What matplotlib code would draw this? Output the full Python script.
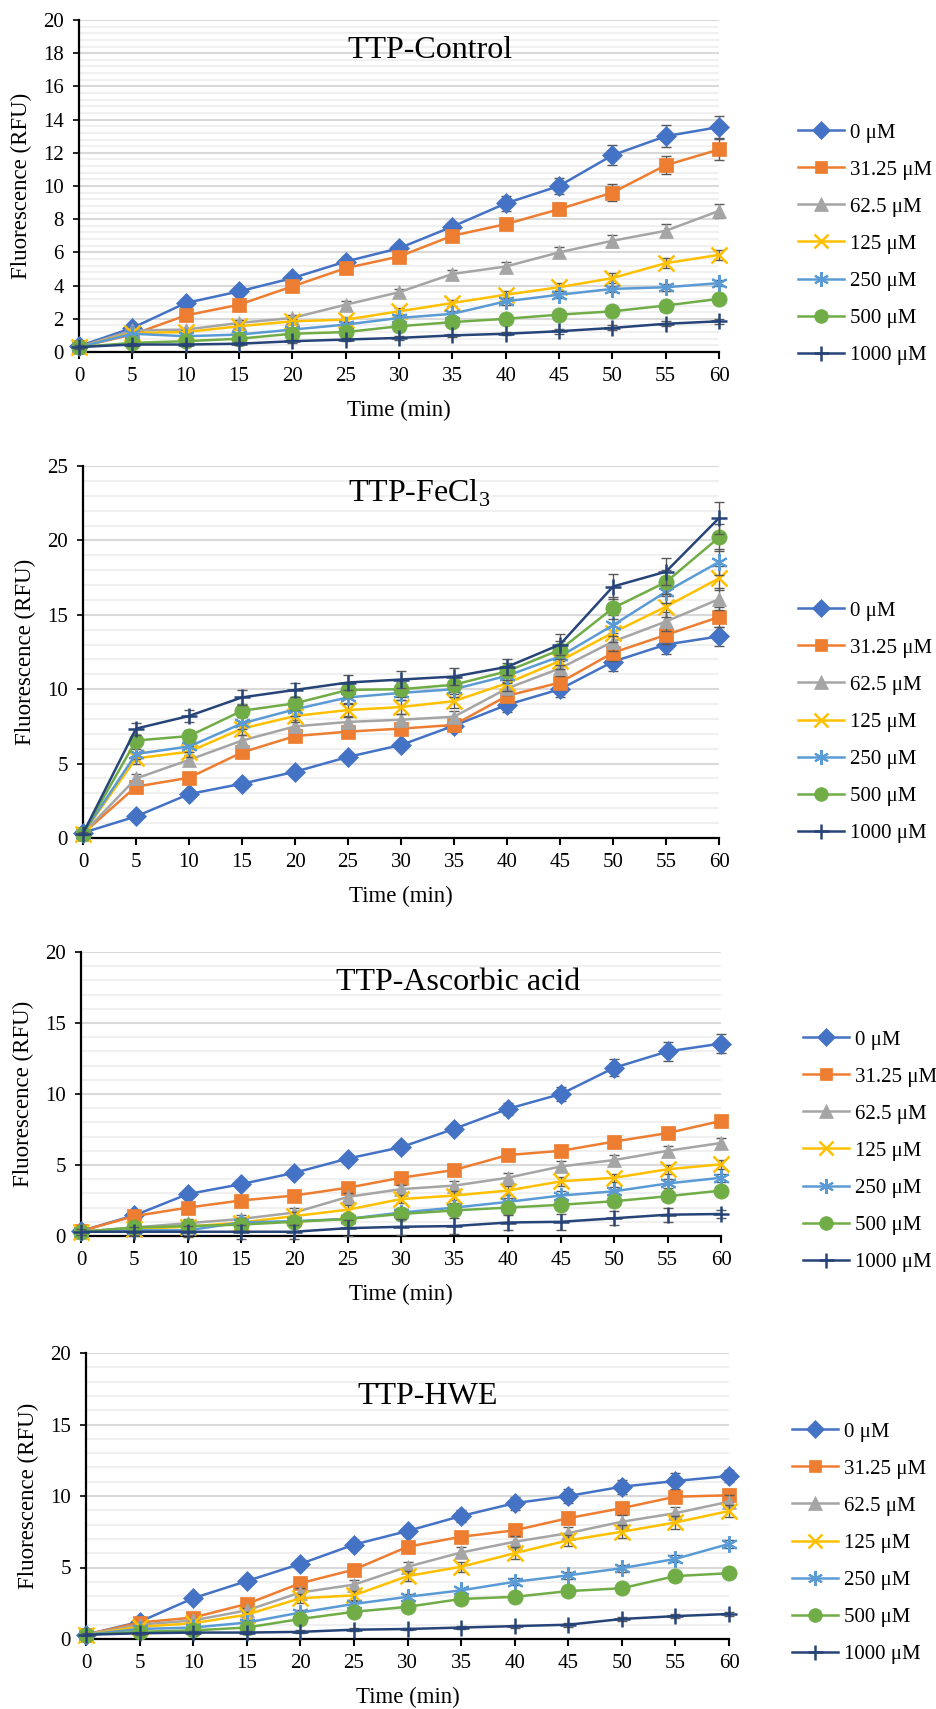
import matplotlib
matplotlib.use('Agg')
import matplotlib.pyplot as plt
from matplotlib.ticker import MultipleLocator

plt.rcParams['font.family'] = ['Liberation Serif', 'DejaVu Serif']
plt.rcParams['mathtext.fontset'] = 'custom'
plt.rcParams['mathtext.rm'] = 'Liberation Serif'

# ---- data ----
time_min = [0, 5, 10, 15, 20, 25, 30, 35, 40, 45, 50, 55, 60]
conc_labels = ['0 μM', '31.25 μM', '62.5 μM', '125 μM', '250 μM', '500 μM', '1000 μM']

# the 0 uM control curve, shared by the first three panels
ctrl_0 = [0.35, 1.45, 2.95, 3.65, 4.45, 5.45, 6.25, 7.55, 8.95, 10.0, 11.85, 13.0, 13.55]
ctrl_0_err = [0.1, 0.15, 0.2, 0.2, 0.2, 0.25, 0.25, 0.3, 0.45, 0.5, 0.6, 0.65, 0.65]

control_vals = [
    ctrl_0,
    [0.3, 1.05, 2.2, 2.85, 3.95, 5.05, 5.75, 7.0, 7.7, 8.6, 9.6, 11.25, 12.2],
    [0.3, 1.3, 1.35, 1.75, 2.05, 2.85, 3.6, 4.7, 5.15, 6.0, 6.7, 7.3, 8.5],
    [0.3, 1.15, 1.2, 1.55, 1.85, 1.95, 2.45, 2.95, 3.45, 3.9, 4.45, 5.35, 5.85],
    [0.3, 1.1, 0.95, 1.05, 1.35, 1.65, 2.05, 2.3, 3.05, 3.45, 3.8, 3.9, 4.15],
    [0.3, 0.55, 0.65, 0.8, 1.1, 1.2, 1.55, 1.8, 2.0, 2.25, 2.45, 2.8, 3.2],
    [0.3, 0.45, 0.45, 0.5, 0.65, 0.75, 0.85, 1.0, 1.1, 1.25, 1.45, 1.7, 1.85],
]
control_err = [
    ctrl_0_err,
    [0.1, 0.1, 0.2, 0.2, 0.2, 0.25, 0.3, 0.3, 0.3, 0.35, 0.5, 0.55, 0.65],
    [0.1, 0.1, 0.1, 0.15, 0.2, 0.2, 0.2, 0.25, 0.25, 0.3, 0.35, 0.4, 0.4],
    [0.1, 0.1, 0.1, 0.15, 0.15, 0.15, 0.2, 0.2, 0.2, 0.25, 0.3, 0.3, 0.3],
    [0.1, 0.1, 0.1, 0.1, 0.1, 0.15, 0.15, 0.2, 0.2, 0.2, 0.2, 0.2, 0.2],
    [0.1, 0.1, 0.1, 0.1, 0.1, 0.1, 0.15, 0.15, 0.15, 0.15, 0.15, 0.15, 0.15],
    [0.1, 0.1, 0.1, 0.1, 0.1, 0.1, 0.1, 0.1, 0.1, 0.15, 0.15, 0.15, 0.15],
]

fecl3_vals = [
    ctrl_0,
    [0.3, 3.45, 4.05, 5.75, 6.85, 7.15, 7.35, 7.6, 9.55, 10.45, 12.45, 13.65, 14.85],
    [0.3, 4.0, 5.25, 6.55, 7.5, 7.8, 7.95, 8.15, 10.05, 11.4, 13.2, 14.55, 16.05],
    [0.3, 5.35, 5.8, 7.35, 8.2, 8.6, 8.8, 9.2, 10.4, 11.9, 13.8, 15.55, 17.45],
    [0.3, 5.65, 6.15, 7.7, 8.65, 9.45, 9.75, 10.0, 10.9, 12.2, 14.3, 16.55, 18.55],
    [0.3, 6.55, 6.85, 8.55, 9.05, 9.95, 10.0, 10.3, 11.2, 12.65, 15.45, 17.2, 20.2],
    [0.3, 7.35, 8.2, 9.45, 9.95, 10.45, 10.65, 10.85, 11.5, 13.0, 16.9, 17.9, 21.5],
]
fecl3_err = [
    ctrl_0_err,
    [0.1, 0.3, 0.3, 0.35, 0.35, 0.35, 0.35, 0.4, 0.4, 0.45, 0.55, 0.6, 0.7],
    [0.1, 0.3, 0.35, 0.35, 0.4, 0.4, 0.4, 0.4, 0.45, 0.5, 0.6, 0.65, 0.75],
    [0.1, 0.35, 0.35, 0.4, 0.4, 0.45, 0.45, 0.45, 0.5, 0.55, 0.65, 0.7, 0.8],
    [0.1, 0.35, 0.4, 0.4, 0.45, 0.45, 0.45, 0.5, 0.5, 0.55, 0.7, 0.75, 0.85],
    [0.1, 0.4, 0.4, 0.45, 0.45, 0.5, 0.5, 0.5, 0.55, 0.6, 0.75, 0.8, 0.9],
    [0.1, 0.4, 0.4, 0.5, 0.5, 0.5, 0.55, 0.55, 0.55, 0.7, 0.85, 0.9, 1.1],
]

ascorbic_vals = [
    ctrl_0,
    [0.35, 1.4, 2.0, 2.5, 2.85, 3.4, 4.1, 4.65, 5.7, 6.0, 6.65, 7.25, 8.1],
    [0.3, 0.6, 0.9, 1.2, 1.65, 2.75, 3.3, 3.55, 4.1, 4.9, 5.35, 6.0, 6.55],
    [0.3, 0.5, 0.65, 0.95, 1.4, 1.85, 2.6, 2.85, 3.2, 3.85, 4.1, 4.7, 5.05],
    [0.3, 0.4, 0.4, 0.95, 1.05, 1.2, 1.65, 2.0, 2.4, 2.85, 3.15, 3.7, 4.1],
    [0.3, 0.6, 0.7, 0.8, 1.0, 1.2, 1.55, 1.8, 2.0, 2.2, 2.45, 2.8, 3.2],
    [0.3, 0.3, 0.3, 0.3, 0.3, 0.55, 0.65, 0.7, 0.95, 1.0, 1.25, 1.5, 1.55],
]
ascorbic_err = [
    ctrl_0_err,
    [0.2, 0.2, 0.3, 0.3, 0.3, 0.35, 0.35, 0.35, 0.35, 0.35, 0.35, 0.35, 0.35],
    [0.2, 0.2, 0.3, 0.3, 0.3, 0.3, 0.3, 0.35, 0.35, 0.35, 0.35, 0.35, 0.35],
    [0.2, 0.2, 0.3, 0.3, 0.3, 0.3, 0.3, 0.3, 0.3, 0.3, 0.3, 0.3, 0.3],
    [0.2, 0.3, 0.3, 0.3, 0.3, 0.3, 0.3, 0.3, 0.3, 0.3, 0.3, 0.3, 0.3],
    [0.2, 0.3, 0.3, 0.3, 0.3, 0.3, 0.3, 0.3, 0.3, 0.3, 0.3, 0.3, 0.3],
    [0.2, 0.3, 0.4, 0.5, 0.5, 0.55, 0.55, 0.55, 0.55, 0.55, 0.5, 0.5, 0.3],
]

hwe_vals = [
    [0.3, 1.2, 2.85, 4.05, 5.25, 6.6, 7.55, 8.6, 9.5, 10.0, 10.65, 11.05, 11.4],
    [0.3, 1.15, 1.5, 2.45, 3.9, 4.85, 6.45, 7.15, 7.6, 8.45, 9.15, 9.95, 10.05],
    [0.3, 1.0, 1.3, 2.0, 3.25, 3.8, 5.05, 6.05, 6.8, 7.4, 8.2, 8.8, 9.6],
    [0.3, 0.85, 1.1, 1.7, 2.85, 3.05, 4.4, 5.05, 6.0, 6.9, 7.5, 8.15, 8.95],
    [0.3, 0.7, 0.8, 1.15, 1.85, 2.45, 2.95, 3.4, 4.0, 4.45, 4.95, 5.6, 6.65],
    [0.3, 0.5, 0.6, 0.8, 1.4, 1.9, 2.25, 2.8, 2.95, 3.35, 3.55, 4.4, 4.6],
    [0.3, 0.4, 0.45, 0.45, 0.5, 0.65, 0.7, 0.8, 0.9, 1.0, 1.4, 1.6, 1.75],
]
hwe_err = [
    [0.1, 0.15, 0.2, 0.2, 0.25, 0.3, 0.35, 0.4, 0.45, 0.5, 0.5, 0.55, 0.4],
    [0.1, 0.15, 0.2, 0.2, 0.25, 0.3, 0.3, 0.35, 0.35, 0.4, 0.4, 0.45, 0.45],
    [0.1, 0.15, 0.2, 0.2, 0.3, 0.3, 0.35, 0.35, 0.4, 0.4, 0.45, 0.45, 0.45],
    [0.1, 0.15, 0.2, 0.2, 0.3, 0.3, 0.35, 0.35, 0.4, 0.4, 0.45, 0.45, 0.45],
    [0.1, 0.1, 0.15, 0.15, 0.2, 0.2, 0.2, 0.2, 0.25, 0.25, 0.25, 0.25, 0.3],
    [0.1, 0.1, 0.1, 0.1, 0.15, 0.15, 0.15, 0.15, 0.15, 0.2, 0.2, 0.2, 0.2],
    [0.1, 0.1, 0.1, 0.1, 0.1, 0.1, 0.1, 0.1, 0.1, 0.15, 0.15, 0.15, 0.15],
]

panel_titles = ['TTP-Control', r'TTP-FeCl$_\mathregular{3}$', 'TTP-Ascorbic acid', 'TTP-HWE']
panel_vals = [control_vals, fecl3_vals, ascorbic_vals, hwe_vals]
panel_err = [control_err, fecl3_err, ascorbic_err, hwe_err]
panel_ymax = [20, 25, 20, 20]
panel_ymajor = [2, 5, 5, 5]
panel_yminor = [0.4, 1, 1, 1]

# ---- style ----
colors = ['#4472C4', '#ED7D31', '#A5A5A5', '#FFC000', '#5B9BD5', '#70AD47', '#264478']
markers = ['D', 's', '^', 'x', (6, 2, 0), 'o', '+']
msizes = [10.5, 10, 10.5, 11, 12, 11, 12]
medge = [0.5, 0.5, 0.5, 1.8, 1.5, 0.5, 1.8]

W, H = 936, 1709
# axes boxes in pixels: left, top, right, bottom
boxes = [(79, 20, 719, 352), (83, 466, 719, 838), (81, 952, 721, 1236), (86, 1353, 729, 1639)]
title_pos = [(430, 50), (419, 493), (458, 983), (428, 1396)]
legend_pos = [(798, 244), (798, 722), (803, 1151), (792, 1543)]


def px_rect(b):
    l, t, r, bt = b
    return [l / W, 1 - bt / H, (r - l) / W, (bt - t) / H]


fig = plt.figure(figsize=(W / 100, H / 100), dpi=100)

for p in range(4):
    ax = fig.add_axes(px_rect(boxes[p]))
    handles = []
    for i in range(7):
        ax.errorbar(time_min, panel_vals[p][i], yerr=panel_err[p][i], fmt='none',
                    ecolor='#595959', elinewidth=1.0, capsize=3.5, capthick=1.0,
                    zorder=2 + i, clip_on=False)
        ln, = ax.plot(time_min, panel_vals[p][i], color=colors[i], lw=1.8,
                      marker=markers[i], ms=msizes[i], mfc=colors[i], mec=colors[i],
                      mew=medge[i], zorder=2.5 + i, clip_on=False, label=conc_labels[i])
        handles.append(ln)

    ax.set_xlim(0, 60)
    ax.set_ylim(0, panel_ymax[p])
    ax.xaxis.set_major_locator(MultipleLocator(5))
    ax.yaxis.set_major_locator(MultipleLocator(panel_ymajor[p]))
    ax.yaxis.set_minor_locator(MultipleLocator(panel_yminor[p]))
    ax.grid(True, which='major', axis='y', color='#d9d9d9', lw=1.5)
    ax.grid(True, which='minor', axis='y', color='#f0f0f0', lw=1.5)
    ax.set_axisbelow(True)
    for s in ['top', 'right']:
        ax.spines[s].set_visible(False)
    for s in ['left', 'bottom']:
        ax.spines[s].set_linewidth(1.6)
        ax.spines[s].set_zorder(1.5)
    ax.tick_params(axis='x', which='major', direction='out', length=5, width=1.5,
                   pad=6, labelsize=15)
    ax.tick_params(axis='y', which='major', direction='out', length=4, width=1.2,
                   pad=7, labelsize=15)
    ax.tick_params(axis='y', which='minor', length=0)
    ax.set_ylabel('Fluorescence (RFU)', fontsize=16.5, labelpad=8)

    l, t, r, bt = boxes[p]
    fig.text((l + r) / 2 / W, 1 - (bt + 58) / H, 'Time (min)', fontsize=16.5,
             ha='center', va='center')
    tx, ty = title_pos[p]
    fig.text(tx / W, 1 - ty / H, panel_titles[p], fontsize=23, ha='center', va='center')

    lx, ly = legend_pos[p]
    fig.legend(handles=handles, loc='center left', bbox_to_anchor=(lx / W, 1 - ly / H),
               frameon=False, fontsize=15, handlelength=2.2, handletextpad=0.3,
               labelspacing=0.84, borderpad=0, borderaxespad=0, numpoints=1,
               markerscale=0.9)

fig.savefig('out.png', dpi=100)
